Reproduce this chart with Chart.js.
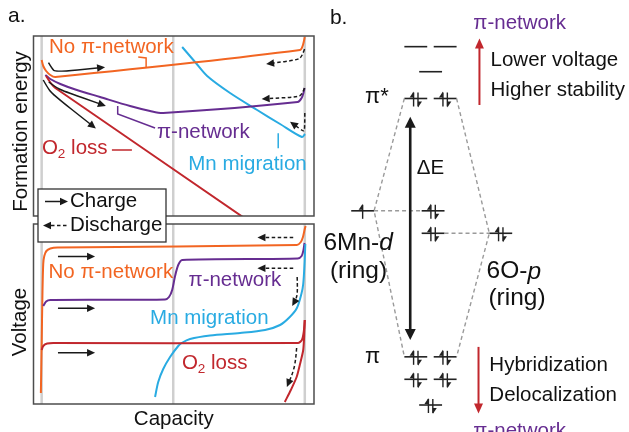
<!DOCTYPE html>
<html>
<head>
<meta charset="utf-8">
<script src="https://cdn.jsdelivr.net/npm/chart.js"></script>
<style>
  html, body { margin: 0; padding: 0; background: #fff; }
  #wrap { position: relative; width: 629px; height: 432px; overflow: hidden; }
  #wrap canvas { position: absolute; left: 0; top: 0; }
</style>
</head>
<body>
<div id="wrap">
  <canvas id="mo" width="629" height="432"></canvas>
  <canvas id="fe" width="629" height="432"></canvas>
  <canvas id="volt" width="629" height="432"></canvas>
</div>
<script>
// ---------- Panel a: capacity in %, energies / voltages in arbitrary units ----------
const guideCaps = [0, 50, 100];

// Formation energy vs capacity, [capacity, energy]
const feNoPi = [[0,156],[0.6,150],[1.7,145],[3.3,141],[5.2,139],[98.2,166],[99.3,171],[100,179]];
const fePi   = [[1.4,141],[3.3,137],[7.1,132],[12.8,126.5],[22.2,119],[33.6,110],[41.2,105],[46.2,103],[97.3,114],[98.8,118],[99.5,123],[99.9,128]];
const feO2   = [[1.7,140],[2.9,135],[4.4,130],[6.3,126],[77.0,-2]];
const feMn   = [[53.4,169],[58.3,154],[62.9,140],[71.6,123],[81.9,106],[90.6,92],[98.9,79],[100.1,82]];

// Voltage vs capacity, [capacity, voltage]
const vNoPi = [[-0.3,11],[0,60],[0.3,110],[0.6,140],[1.0,148],[1.8,153],[3.3,155.5],[6,156.5],[97.0,159],[98.5,162],[99.3,167],[99.9,174],[100.3,178]];
const vPi   = [[0.6,98],[1.7,102.5],[3.3,104],[46.9,104.5],[48.4,107],[49.6,114],[50.7,128],[51.9,139],[53.4,144],[97.3,145.5],[98.8,148],[99.5,154],[99.9,161]];
const vMn   = [[43.1,7],[44.3,22],[46.2,35],[48.8,47],[51.9,58],[53.2,61],[56.4,65],[64.0,68.5],[75.4,71],[84.9,74],[90.6,79],[94.3,87],[97.0,96],[98.7,110],[99.4,120],[99.9,140],[100.2,160]];
const vO2   = [[0,54],[0.6,58],[2.1,60.5],[4.4,61],[97.4,61],[98.9,64],[99.6,72],[100,84]];
const vO2Back = [[100,84],[99.8,70],[99.4,54],[98.1,39],[96.9,27],[94.7,14],[92.4,2]];

// Arrow paths: charge (solid) and discharge (dashed), [capacity, value]
const chargeTop = [
  [[2.6,153.3],[4.0,147],[5.3,144],[24.1,148.7]],
  [[2.7,134],[5.2,129],[8.2,125],[24.4,110]],
  [[0.6,136],[2.1,129],[4.0,122],[20.6,87.5]]
];
const dischargeTop = [
  [[99.9,167],[98.9,159],[97.0,156],[85.3,152]],
  [[99.9,128],[98.9,121],[97.0,119],[83.6,117]],
  [[100,103],[100,86],[99.5,84.5],[94.4,94.3]]
];
const chargeBottom = [
  [[6.2,147.5],[20.3,147.5]],
  [[6.2,95.7],[20.3,95.7]],
  [[6.2,51.3],[20.3,51.3]]
];
const dischargeBottom = [
  [[95.6,166.5],[82.0,166.5]],
  [[95.6,135.7],[82.0,135.7]],
  [[97.1,127],[97.3,112],[96.7,105],[95.2,98]],
  [[96.9,56],[96.5,42],[95.4,31],[93.2,17]]
];

// ---------- Panel b: orbital levels, [x position, energy] ----------
const piStarEmpty  = [[31.0,89.2],[40.5,89.2],[35.8,83.4]];
const piStarFilled = [[31.0,77.2],[40.5,77.2]];
const mnD          = [[13.8,51.2]];
const ringMid      = [[36.6,51.2],[36.6,46.0]];
const oP           = [[58.5,46.0]];
const piFilled     = [[31.0,17.4],[40.5,17.4],[31.0,12.2],[40.5,12.2],[35.8,6.25]];
const deltaE       = [29.2, 21.3, 73.0];   // x, lower energy, upper energy
const trendUp      = [51.6, 75.7, 91.1];
const trendDown    = [51.3, 19.7, 4.3];

// ---------- styling ----------
const C = {
  orange: '#f26522', purple: '#662d91', blue: '#29abe2', red: '#c1272d',
  ink: '#1a1a1a', guide: '#cfcfcf', frame: '#4d4d4d', corr: '#9a9a9a'
};
const FAM = '"Liberation Sans", Arial, sans-serif';

const toXY = pts => pts.map(([x, y]) => ({ x, y }));
const series = (pts, color, tension = 0.3) => ({
  data: toXY(pts), showLine: true, borderColor: color, borderWidth: 2,
  pointRadius: 0, tension, fill: false
});

function baseOptions(padding, xr, yr) {
  return {
    responsive: false, animation: false, events: [], devicePixelRatio: 1,
    layout: { padding },
    plugins: { legend: { display: false }, tooltip: { enabled: false } },
    scales: {
      x: { type: 'linear', min: xr[0], max: xr[1], display: false },
      y: { type: 'linear', min: yr[0], max: yr[1], display: false }
    }
  };
}

// text runs: [text, style] where style is undefined, 'sub' or 'it'
function drawRuns(ctx, runs, x, y, color, align = 'left', size = 20.5) {
  const fontOf = s => s === 'sub' ? (size * 0.66) + 'px ' + FAM
                    : s === 'it' ? 'italic ' + size + 'px ' + FAM : size + 'px ' + FAM;
  ctx.save();
  ctx.fillStyle = color; ctx.textBaseline = 'middle'; ctx.textAlign = 'left';
  let total = 0;
  for (const [t, s] of runs) { ctx.font = fontOf(s); total += ctx.measureText(t).width; }
  let cx = align === 'center' ? x - total / 2 : x;
  for (const [t, s] of runs) {
    ctx.font = fontOf(s);
    ctx.fillText(t, cx, s === 'sub' ? y + size * 0.3 : y);
    cx += ctx.measureText(t).width;
  }
  ctx.restore();
}
const T = s => [[s]];

function arrowHead(ctx, tx, ty, ang, L, W) {
  ctx.beginPath();
  ctx.moveTo(tx, ty);
  ctx.lineTo(tx - L * Math.cos(ang) + W * Math.sin(ang), ty - L * Math.sin(ang) - W * Math.cos(ang));
  ctx.lineTo(tx - L * Math.cos(ang) - W * Math.sin(ang), ty - L * Math.sin(ang) + W * Math.cos(ang));
  ctx.closePath(); ctx.fill();
}

// smooth arrow through pixel points, head at the last point
function pixArrow(ctx, p, o = {}) {
  const n = p.length;
  const [tx, ty] = p[n - 1], [fx, fy] = p[n - 2];
  const ang = Math.atan2(ty - fy, tx - fx);
  const L = o.head || 8, W = o.headW || 3.8;
  const ex = tx - Math.cos(ang) * L * 0.7, ey = ty - Math.sin(ang) * L * 0.7;
  ctx.save();
  ctx.strokeStyle = ctx.fillStyle = o.color || C.ink;
  ctx.lineWidth = o.width || 1.5;
  ctx.setLineDash(o.dash || []);
  ctx.beginPath();
  ctx.moveTo(p[0][0], p[0][1]);
  for (let i = 1; i < n - 1; i++) {
    const nx = i + 1 < n - 1 ? p[i + 1][0] : ex, ny = i + 1 < n - 1 ? p[i + 1][1] : ey;
    ctx.quadraticCurveTo(p[i][0], p[i][1], (p[i][0] + nx) / 2, (p[i][1] + ny) / 2);
  }
  ctx.lineTo(ex, ey);
  ctx.stroke();
  ctx.setLineDash([]);
  arrowHead(ctx, tx, ty, ang, L, W);
  ctx.restore();
}

function toPix(chart, pts) {
  const { x, y } = chart.scales;
  return pts.map(([a, b]) => [x.getPixelForValue(a), y.getPixelForValue(b)]);
}

function polyline(ctx, p, color, width) {
  ctx.save();
  ctx.strokeStyle = color; ctx.lineWidth = width;
  ctx.beginPath(); ctx.moveTo(p[0][0], p[0][1]);
  for (let i = 1; i < p.length; i++) ctx.lineTo(p[i][0], p[i][1]);
  ctx.stroke(); ctx.restore();
}

// guide lines behind the curves, frame on top
const framePlugin = {
  id: 'frame',
  beforeDatasetsDraw(chart) {
    const { ctx, chartArea: a, scales: { x } } = chart;
    ctx.save();
    ctx.strokeStyle = C.guide; ctx.lineWidth = 2.5;
    for (const c of guideCaps) {
      const px = x.getPixelForValue(c);
      ctx.beginPath(); ctx.moveTo(px, a.top); ctx.lineTo(px, a.bottom); ctx.stroke();
    }
    ctx.restore();
  },
  afterDatasetsDraw(chart) {
    const { ctx, chartArea: a } = chart;
    ctx.save();
    ctx.strokeStyle = C.frame; ctx.lineWidth = 1.5;
    ctx.strokeRect(a.left, a.top, a.right - a.left, a.bottom - a.top);
    ctx.restore();
  }
};

// ---------- top: formation energy ----------
const feLabels = [
  { runs: T('No π-network'), at: [2.8, 169], color: C.orange },
  { runs: T('π-network'), at: [43.8, 84], color: C.purple },
  { runs: [['O'], ['2', 'sub'], [' loss']], at: [0.1, 67.7], color: C.red },
  { runs: T('Mn migration'), at: [55.7, 52], color: C.blue }
];
const feLeaders = [
  { pts: [[36.7,159],[39.7,158],[39.7,149]], color: C.orange },
  { pts: [[28.9,110],[28.9,102],[43.1,88]], color: C.purple },
  { pts: [[26.7,66],[34.3,66]], color: C.red },
  { pts: [[89.9,82.7],[89.9,67.7]], color: C.blue }
];

const feAnnot = {
  id: 'feAnnot',
  afterDraw(chart) {
    const ctx = chart.ctx;
    for (const a of chargeTop) pixArrow(ctx, toPix(chart, a));
    for (const a of dischargeTop) pixArrow(ctx, toPix(chart, a), { dash: [3.5, 2.5] });
    for (const l of feLeaders) polyline(ctx, toPix(chart, l.pts), l.color, 1.5);
    for (const l of feLabels) {
      const [[px, py]] = toPix(chart, [l.at]);
      drawRuns(ctx, l.runs, px, py, l.color);
    }
    // panel letter and axis title
    drawRuns(ctx, T('a.'), 8, 16, '#111', 'left', 21);
    ctx.save();
    ctx.translate(21, 131.5); ctx.rotate(-Math.PI / 2);
    drawRuns(ctx, T('Formation energy'), 0, 0, '#111', 'center');
    ctx.restore();
  }
};

new Chart(document.getElementById('fe'), {
  type: 'scatter',
  data: { datasets: [
    series(feO2, C.red), series(fePi, C.purple), series(feNoPi, C.orange), series(feMn, C.blue)
  ] },
  options: baseOptions({ left: 33.5, top: 36, right: 315, bottom: 216 }, [-3.1, 103.5], [0, 180]),
  plugins: [framePlugin, feAnnot]
});

// ---------- bottom: voltage ----------
const vLabels = [
  { runs: T('No π-network'), at: [2.6, 131.7], color: C.orange },
  { runs: T('π-network'), at: [55.8, 123.3], color: C.purple },
  { runs: T('Mn migration'), at: [41.2, 85.7], color: C.blue },
  { runs: [['O'], ['2', 'sub'], [' loss']], at: [53.3, 40.7], color: C.red }
];

const vAnnot = {
  id: 'vAnnot',
  afterDraw(chart) {
    const ctx = chart.ctx, a = chart.chartArea;
    for (const p of chargeBottom) pixArrow(ctx, toPix(chart, p));
    for (const p of dischargeBottom) pixArrow(ctx, toPix(chart, p), { dash: [3.5, 2.5] });
    for (const l of vLabels) {
      const [[px, py]] = toPix(chart, [l.at]);
      drawRuns(ctx, l.runs, px, py, l.color);
    }
    ctx.save();
    ctx.translate(20, 322); ctx.rotate(-Math.PI / 2);
    drawRuns(ctx, T('Voltage'), 0, 0, '#111', 'center');
    ctx.restore();
    drawRuns(ctx, T('Capacity'), (a.left + a.right) / 2, 419, '#111', 'center');

    // legend box straddling the two plots
    const lx = a.left + 4.5, ly = a.top - 35, lw = 128, lh = 53;
    ctx.save();
    ctx.fillStyle = '#fff'; ctx.fillRect(lx, ly, lw, lh);
    ctx.strokeStyle = '#333'; ctx.lineWidth = 1.3; ctx.strokeRect(lx, ly, lw, lh);
    ctx.restore();
    pixArrow(ctx, [[lx + 7, ly + 12.5], [lx + 30, ly + 12.5]]);
    drawRuns(ctx, T('Charge'), lx + 32, ly + 12.5, '#111');
    pixArrow(ctx, [[lx + 28.5, ly + 36.5], [lx + 5, ly + 36.5]], { dash: [3.5, 2.5] });
    drawRuns(ctx, T('Discharge'), lx + 32, ly + 36.5, '#111');
  }
};

new Chart(document.getElementById('volt'), {
  type: 'scatter',
  data: { datasets: [
    series(vO2, C.red, 0.25), series(vO2Back, C.red, 0.25), series(vMn, C.blue),
    series(vPi, C.purple, 0.25), series(vNoPi, C.orange, 0.25)
  ] },
  options: baseOptions({ left: 33.5, top: 224, right: 315, bottom: 28 }, [-3.1, 103.5], [0, 180]),
  plugins: [framePlugin, vAnnot]
});

// ---------- panel b: molecular orbital diagram ----------
const HW = 3.7; // half width of a level, x units
const levelSets = [
  { lv: piStarEmpty, e: 0 }, { lv: piStarFilled, e: 2 }, { lv: mnD, e: 1 },
  { lv: ringMid, e: 2 }, { lv: oP, e: 2 }, { lv: piFilled, e: 2 }
];
const L = ([x, y], s) => [x + s * HW, y];
const corrLines = [
  [L(piStarFilled[0], -1), L(mnD[0], 1), L(piFilled[0], -1)],
  [L(piStarFilled[1], 1), L(oP[0], -1), L(piFilled[1], 1)],
  [L(mnD[0], 1), L(ringMid[0], -1)],
  [L(ringMid[1], 1), L(oP[0], -1)]
];

const moDatasets = [];
for (const c of corrLines) {
  moDatasets.push({ data: toXY(c), showLine: true, borderColor: C.corr, borderWidth: 1.4,
    borderDash: [4, 3], pointRadius: 0, tension: 0 });
}
for (const s of levelSets) for (const p of s.lv) {
  moDatasets.push({ data: toXY([L(p, -1), L(p, 1)]), showLine: true, borderColor: '#222',
    borderWidth: 1.6, pointRadius: 0, tension: 0 });
}

const moLabels = [
  { runs: T('b.'), at: [3.2, 95.8], color: '#111', size: 21 },
  { runs: T('π-network'), at: [49.6, 94.6], color: C.purple },
  { runs: T('Lower voltage'), at: [55.2, 86.1], color: '#111' },
  { runs: T('Higher stability'), at: [55.2, 79.2], color: '#111' },
  { runs: T('π*'), at: [14.6, 77.6], color: '#111', size: 22 },
  { runs: T('ΔE'), at: [31.3, 61.0], color: '#111' },
  { runs: [['6Mn-'], ['d', 'it']], at: [1.1, 43.7], color: '#111', size: 24.5 },
  { runs: T('(ring)'), at: [3.2, 37.1], color: '#111', size: 24.5 },
  { runs: [['6O-'], ['p', 'it']], at: [53.9, 37.1], color: '#111', size: 24.5 },
  { runs: T('(ring)'), at: [54.5, 30.9], color: '#111', size: 24.5 },
  { runs: T('π'), at: [14.6, 17.4], color: '#111', size: 22 },
  { runs: T('Hybridization'), at: [54.8, 15.5], color: '#111' },
  { runs: T('Delocalization'), at: [54.8, 8.6], color: '#111' },
  { runs: T('π-network'), at: [49.6, 0.1], color: C.purple }
];

function electron(ctx, x, y, up) {
  ctx.beginPath(); ctx.moveTo(x, y + 8); ctx.lineTo(x, y - 6); ctx.stroke();
  ctx.beginPath();
  if (up) { ctx.moveTo(x, y - 7); ctx.lineTo(x - 4, y - 1); ctx.lineTo(x, y - 1); }
  else    { ctx.moveTo(x, y + 9); ctx.lineTo(x + 4, y + 3); ctx.lineTo(x, y + 3); }
  ctx.closePath(); ctx.fill();
}

const moAnnot = {
  id: 'moAnnot',
  afterDraw(chart) {
    const ctx = chart.ctx;
    ctx.save();
    ctx.strokeStyle = ctx.fillStyle = '#222'; ctx.lineWidth = 1.4;
    for (const s of levelSets) for (const p of s.lv) {
      const [[px, py]] = toPix(chart, [p]);
      if (s.e === 1) electron(ctx, px, py, true);
      if (s.e === 2) { electron(ctx, px - 2.2, py, true); electron(ctx, px + 2.2, py, false); }
    }
    ctx.restore();

    // energy gap, double headed
    const [[gx, gy0], [, gy1]] = toPix(chart, [[deltaE[0], deltaE[1]], [deltaE[0], deltaE[2]]]);
    ctx.save();
    ctx.strokeStyle = ctx.fillStyle = C.ink; ctx.lineWidth = 2.6;
    ctx.beginPath(); ctx.moveTo(gx, gy0 - 8); ctx.lineTo(gx, gy1 + 8); ctx.stroke();
    arrowHead(ctx, gx, gy1, -Math.PI / 2, 11, 5.5);
    arrowHead(ctx, gx, gy0, Math.PI / 2, 11, 5.5);
    ctx.restore();

    // trend arrows
    for (const t of [trendUp, trendDown]) {
      const p = toPix(chart, [[t[0], t[1]], [t[0], t[2]]]);
      pixArrow(ctx, p, { color: C.red, width: 2, head: 10, headW: 4.5 });
    }

    for (const l of moLabels) {
      const [[px, py]] = toPix(chart, [l.at]);
      drawRuns(ctx, l.runs, px, py, l.color, 'left', l.size || 20.5);
    }
  }
};

new Chart(document.getElementById('mo'), {
  type: 'scatter',
  data: { datasets: moDatasets },
  options: baseOptions({ left: 320, top: 0, right: 0, bottom: 0 }, [0, 100], [0, 100]),
  plugins: [moAnnot]
});
</script>
</body>
</html>
